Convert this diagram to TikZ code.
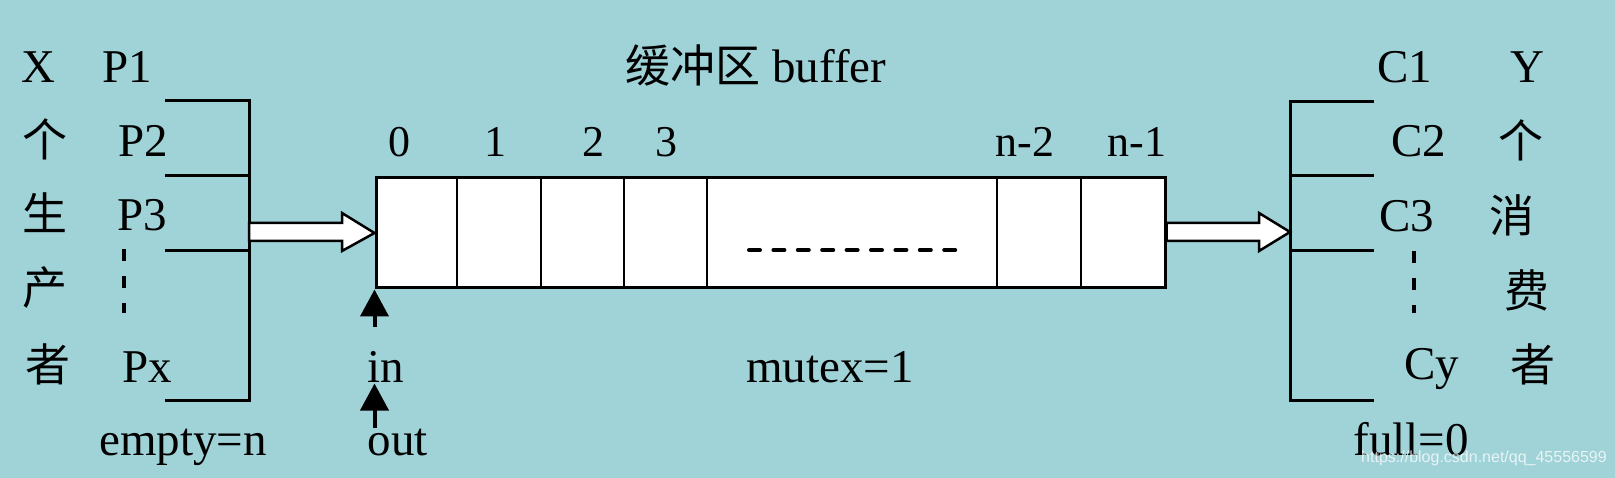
\documentclass[tikz,border=0pt]{standalone}
\usepackage{fontspec}
\setmainfont{Liberation Serif}
\newfontfamily\cjk{Noto Sans CJK SC}
\newfontfamily\wmfont{Liberation Sans}
\usetikzlibrary{arrows.meta}
\definecolor{bg}{HTML}{A0D3D8}
\begin{document}
\begin{tikzpicture}[x=1pt,y=-1pt,line width=3pt,
  lbl/.style={font=\fontsize{47}{50}\selectfont,anchor=base,inner sep=0pt},
  num/.style={font=\fontsize{44}{48}\selectfont,anchor=base,inner sep=0pt},
  han/.style={font=\cjk\fontsize{45}{50}\selectfont,inner sep=0pt},
  hollow/.style={fill=white,draw=black,line width=2.5pt,line join=miter},
  divider/.style={line width=2.5pt},
  dots/.style={line width=4pt,dash pattern=on 12pt off 15pt},
  ptr/.style={line width=4pt,-{Triangle[width=28pt,length=27pt]}}]
\fill[bg] (0,0) rectangle (1615,478);
\useasboundingbox (0,0) rectangle (1615,478);

% buffer
\node[draw,fill=white,line width=3pt,minimum width=789pt,minimum height=110pt,inner sep=0pt,anchor=north west] (buf) at (374.5,176.5) {};
\foreach \x in {457,541,624,707,997,1081} \draw[divider] (\x,176.5) -- (\x,286.5);
\draw[line width=4pt,line cap=round,dash pattern=on 11pt off 13.4pt] (749,250) -- (956,250);

% titles and indices
\node[font=\fontsize{47}{50}\selectfont,anchor=base,inner sep=0pt] (title) at (756,83) {{\cjk\fontsize{45}{50}\selectfont 缓冲区} buffer};
\node[num] (i0) at (399,157) {0};
\node[num] (i1) at (495,157) {1};
\node[num] (i2) at (593,157) {2};
\node[num] (i3) at (666,157) {3};
\node[num] (in2) at (1025,157) {n-2};
\node[num] (in1) at (1137,157) {n-1};
\node[lbl] (mutex) at (830,382) {mutex=1};

% producers
\node[lbl] (X) at (38,83) {X};
\node[han] (ge1) at (45,139) {个};
\node[han] (sheng) at (45,213) {生};
\node[han] (chan) at (45,288) {产};
\node[han] (zhe1) at (48,364) {者};
\node[lbl] (P1) at (127,83) {P1};
\node[lbl] (P2) at (143,157) {P2};
\node[lbl] (P3) at (142,231) {P3};
\node[lbl] (Px) at (147,382) {Px};
\node[lbl] (empty) at (183,455) {empty=n};
\draw[dots] (124,249) -- (124,313);
\draw (165,101) -| (249,400) -- (165,400);
\draw (165,176) -- (249,176);
\draw (165,251) -- (249,251);
\coordinate (pj) at (249,232);

% consumers
\node[lbl] (Y) at (1527,83) {Y};
\node[han] (ge2) at (1521,140) {个};
\node[han] (xiao) at (1512,215) {消};
\node[han] (fei) at (1527,290) {费};
\node[han] (zhe2) at (1533,364) {者};
\node[lbl] (C1) at (1405,83) {C1};
\node[lbl] (C2) at (1419,157) {C2};
\node[lbl] (C3) at (1407,232) {C3};
\node[lbl] (Cy) at (1432,380) {Cy};
\node[lbl] (full) at (1411,455) {full=0};
\draw[dots] (1414,251) -- (1414,313);
\draw (1374,102) -| (1290,400) -- (1374,400);
\draw (1290,176) -- (1374,176);
\draw (1290,251) -- (1374,251);
\coordinate (cj) at (1290,232);

% hollow arrows
\draw[hollow] (pj |- 0,223) -- (342,223) -- (342,213) -- (buf.west) -- (342,251) -- (342,241) -- (pj |- 0,241) -- cycle;
\draw[hollow] (buf.east |- 0,223) -- (1259,223) -- (1259,213) -- (cj) -- (1259,251) -- (1259,241) -- (buf.east |- 0,241) -- cycle;

% pointers
\node[lbl] (in) at (386,382) {in};
\node[lbl] (out) at (398,455) {out};
\coordinate (inTail) at (374.5,327);
\coordinate (outTail) at (374.5,428);
\draw[ptr] (inTail) -- (buf.south west);
\draw[ptr] (outTail) -- (buf.south west |- in.south);

% watermark
\node[font=\wmfont\fontsize{16}{18}\selectfont,text=white,opacity=0.75,inner sep=0pt] (wm) at (1484,458) {https://blog.csdn.net/qq\_45556599};
\end{tikzpicture}
\end{document}
